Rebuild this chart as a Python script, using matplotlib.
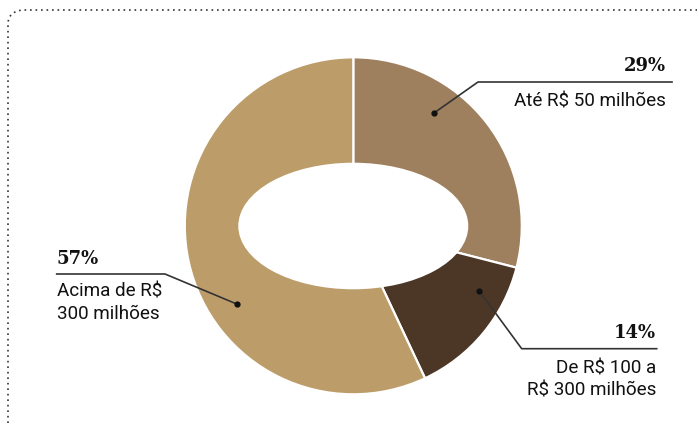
import matplotlib
matplotlib.use("Agg")
import matplotlib.pyplot as plt
from matplotlib.patches import Ellipse, Path, PathPatch

W, H = 697, 423

# Data
categories = [["Até R$ 50 milhões"], ["De R$ 100 a", "R$ 300 milhões"], ["Acima de R$", "300 milhões"]]
values = [29, 14, 57]
pct_labels = ["29%", "14%", "57%"]
colors = ["#9e7f5e", "#4c3726", "#bc9d6a"]

fig = plt.figure(figsize=(W / 100, H / 100), dpi=100)
ax = fig.add_axes([0, 0, 1, 1])

def Y(y):
    return H - y

cx, cy, R = 353.3, 225.8, 168.5
ax.pie(values, colors=colors, startangle=90, counterclock=False, radius=R,
       center=(cx, Y(cy)), wedgeprops=dict(edgecolor="white", linewidth=1.6))
ax.add_patch(Ellipse((cx, Y(226)), 230, 126.6, facecolor="white", edgecolor="none", zorder=5))

ax.set_xlim(0, W)
ax.set_ylim(0, H)
ax.set_aspect("auto")
ax.axis("off")

# dotted frame with rounded corner
verts = [(8, Y(423)), (8, Y(24)), (8, Y(12)), (22, Y(10)), (W, Y(10))]
codes = [Path.MOVETO, Path.LINETO, Path.CURVE3, Path.CURVE3, Path.LINETO]
ax.add_patch(PathPatch(Path(verts, codes), facecolor="none", edgecolor="#333333",
                       linewidth=1.2, linestyle=(0, (1.0, 2.3))))

sans = ["Roboto", "DejaVu Sans"]
serif = ["DejaVu Serif"]
lc = "#333333"
tc = "#111111"
PFS = 13
LFS = 13.6
LSTEP = 22

def label(pct, lines, x, ha, pct_base, first_base):
    ax.text(x, Y(pct_base), pct, ha=ha, va="baseline", fontsize=PFS,
            fontweight="bold", family=serif, color=tc)
    for i, s in enumerate(lines):
        ax.text(x, Y(first_base + i * LSTEP), s, ha=ha, va="baseline",
                fontsize=LFS, family=sans, color=tc)

# Label 29%
ax.plot([434, 478, 672], [Y(113), Y(82), Y(82)], color=lc, lw=1.2, zorder=6)
ax.plot([434], [Y(113)], "o", color=tc, ms=3.5, zorder=7)
label(pct_labels[0], categories[0], 666, "right", 71, 106.5)

# Label 14%
ax.plot([479.3, 521.7, 656.7], [Y(291), Y(348.7), Y(348.7)], color=lc, lw=1.2, zorder=6)
ax.plot([479.3], [Y(291)], "o", color=tc, ms=3.5, zorder=7)
label(pct_labels[1], categories[1], 656, "right", 338, 373.3)

# Label 57%
ax.plot([56.7, 165, 236.7], [Y(274), Y(274), Y(304)], color=lc, lw=1.2, zorder=6)
ax.plot([236.7], [Y(304)], "o", color=tc, ms=3.5, zorder=7)
label(pct_labels[2], categories[2], 56.7, "left", 263.5, 296.7)

fig.savefig("out.png", dpi=100)
